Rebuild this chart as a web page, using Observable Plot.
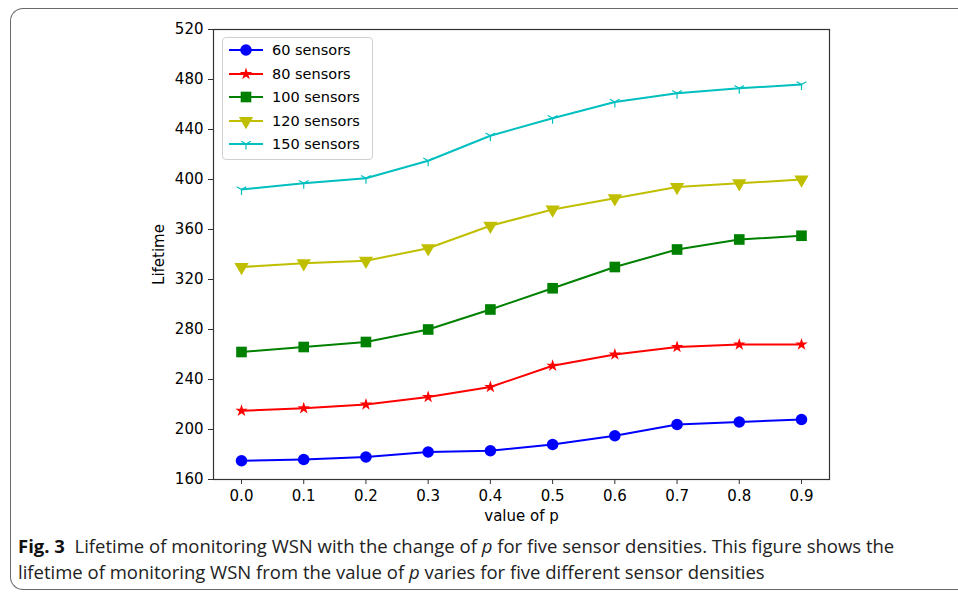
<!DOCTYPE html>
<html>
<head>
<meta charset="utf-8">
<script src="https://cdn.jsdelivr.net/npm/d3@7"></script>
<script src="https://cdn.jsdelivr.net/npm/@observablehq/plot@0.6"></script>
<style>
  html, body { margin: 0; padding: 0; background: #fff; }
  #wrap { position: relative; width: 958px; height: 592px; overflow: hidden; background: #fff; }
  #border { position: absolute; left: 10px; top: 8px; width: 990px; height: 582px;
    border: 1.5px solid #6a6a6a; border-right: none; border-radius: 13px; box-sizing: border-box; }
  #chart { position: absolute; left: 0; top: 0; }
  #legend { position: absolute; left: 222px; top: 37px; width: 151px; height: 123px;
    border: 1px solid #d0d0d0; border-radius: 4px; background: rgba(255,255,255,0.85);
    box-sizing: border-box; font-family: "DejaVu Sans", sans-serif; font-size: 14.5px; color: #000; }
  .lrow { position: absolute; left: 5px; height: 20px; display: flex; align-items: center; }
  .lrow svg { margin-right: 8px; }
  #caption { position: absolute; left: 18px; top: 533px; width: 935px;
    font-family: "Open Sans", sans-serif; font-size: 18.5px; line-height: 26px; color: #222;
    letter-spacing: 0px; white-space: nowrap; }
  #caption b { font-weight: 700; color: #111; }
</style>
</head>
<body>
<div id="wrap">
  <div id="border"></div>
  <div id="chart"></div>
  <div id="legend"></div>
  <div id="caption"><b>Fig. 3</b>&nbsp; Lifetime of monitoring WSN with the change of <i>p</i> for five sensor densities. This figure shows the<br>lifetime of monitoring WSN from the value of <i>p</i> varies for five different sensor densities</div>
</div>
<script>
// ---- data ----
const pValues = [0.0, 0.1, 0.2, 0.3, 0.4, 0.5, 0.6, 0.7, 0.8, 0.9];
const sensors60  = [175, 176, 178, 182, 183, 188, 195, 204, 206, 208];
const sensors80  = [215, 217, 220, 226, 234, 251, 260, 266, 268, 268];
const sensors100 = [262, 266, 270, 280, 296, 313, 330, 344, 352, 355];
const sensors120 = [330, 333, 335, 345, 363, 376, 385, 394, 397, 400];
const sensors150 = [392, 397, 401, 415, 435, 449, 462, 469, 473, 476];
const seriesNames = ["60 sensors", "80 sensors", "100 sensors", "120 sensors", "150 sensors"];
const seriesColors = ["#0000ff", "#ff0000", "#008000", "#bfbf00", "#00bfbf"];
const yTicks = [160, 200, 240, 280, 320, 360, 400, 440, 480, 520];
const xTicks = pValues;

// ---- symbols ----
const triDown = {
  draw(ctx, size) {
    const r = Math.sqrt(size) * 0.75;
    ctx.moveTo(0, 0); ctx.lineTo(0, r);
    ctx.moveTo(0, 0); ctx.lineTo(-r * 0.866, -r * 0.5);
    ctx.moveTo(0, 0); ctx.lineTo(r * 0.866, -r * 0.5);
  }
};
const markerSpecs = [
  {symbol: "circle", r: 5.8, rotate: 0, filled: true},
  {symbol: "star", r: 3.9, rotate: 0, filled: true},
  {symbol: "square", r: 6, rotate: 0, filled: true},
  {symbol: "triangle", r: 5.3, rotate: 180, filled: true},
  {symbol: triDown, r: 4.2, rotate: 0, filled: false}
];

const allSeries = [sensors60, sensors80, sensors100, sensors120, sensors150];
const rows = allSeries.map((vals, k) => pValues.map((p, i) => ({p, v: vals[i], k})));

const marks = [];
rows.forEach((data, k) => {
  const m = markerSpecs[k];
  marks.push(Plot.line(data, {x: "p", y: "v", stroke: seriesColors[k], strokeWidth: 2}));
  marks.push(Plot.dot(data, {
    x: "p", y: "v", symbol: m.symbol, r: m.r, rotate: m.rotate,
    fill: m.filled ? seriesColors[k] : "none",
    stroke: seriesColors[k], strokeWidth: m.filled ? 0 : 1.2
  }));
});

const chart = Plot.plot({
  width: 958,
  height: 526,
  marginLeft: 213,
  marginRight: 129,
  marginTop: 29,
  marginBottom: 47,
  style: {fontFamily: "DejaVu Sans, sans-serif", fontSize: "15px", color: "#000", background: "transparent"},
  x: {domain: [-0.045, 0.945]},
  y: {domain: [160, 520]},
  marks: [
    Plot.axisY({ticks: yTicks, tickSize: 5, tickPadding: 5, label: "Lifetime", labelAnchor: "center",
      labelArrow: "none", labelOffset: 60, stroke: "#333"}),
    Plot.axisX({ticks: xTicks, tickSize: 5, tickPadding: 6, tickFormat: d3.format(".1f"),
      label: "value of p", labelAnchor: "center", labelArrow: "none", labelOffset: 41, stroke: "#333"}),
    ...marks,
    Plot.frame({stroke: "#333", strokeWidth: 1.2})
  ]
});
document.getElementById("chart").appendChild(chart);

// ---- legend ----
const legend = document.getElementById("legend");
seriesNames.forEach((name, k) => {
  const m = markerSpecs[k];
  const row = document.createElement("div");
  row.className = "lrow";
  row.style.top = (2 + k * 23.6) + "px";
  const sym = d3.symbol().type(typeof m.symbol === "string"
    ? {circle: d3.symbolCircle, star: d3.symbolStar, square: d3.symbolSquare, triangle: d3.symbolTriangle}[m.symbol]
    : m.symbol).size(Math.PI * m.r * m.r)();
  const svgNS = "http://www.w3.org/2000/svg";
  const svg = document.createElementNS(svgNS, "svg");
  svg.setAttribute("width", 36); svg.setAttribute("height", 20);
  const line = document.createElementNS(svgNS, "line");
  line.setAttribute("x1", 1); line.setAttribute("x2", 35);
  line.setAttribute("y1", 10); line.setAttribute("y2", 10);
  line.setAttribute("stroke", seriesColors[k]); line.setAttribute("stroke-width", 2);
  svg.appendChild(line);
  const path = document.createElementNS(svgNS, "path");
  path.setAttribute("d", sym);
  path.setAttribute("transform", `translate(18,10) rotate(${m.rotate})`);
  path.setAttribute("fill", m.filled ? seriesColors[k] : "none");
  path.setAttribute("stroke", seriesColors[k]);
  path.setAttribute("stroke-width", m.filled ? 0 : 1.2);
  svg.appendChild(path);
  row.appendChild(svg);
  const span = document.createElement("span");
  span.textContent = name;
  row.appendChild(span);
  legend.appendChild(row);
});
</script>
</body>
</html>
